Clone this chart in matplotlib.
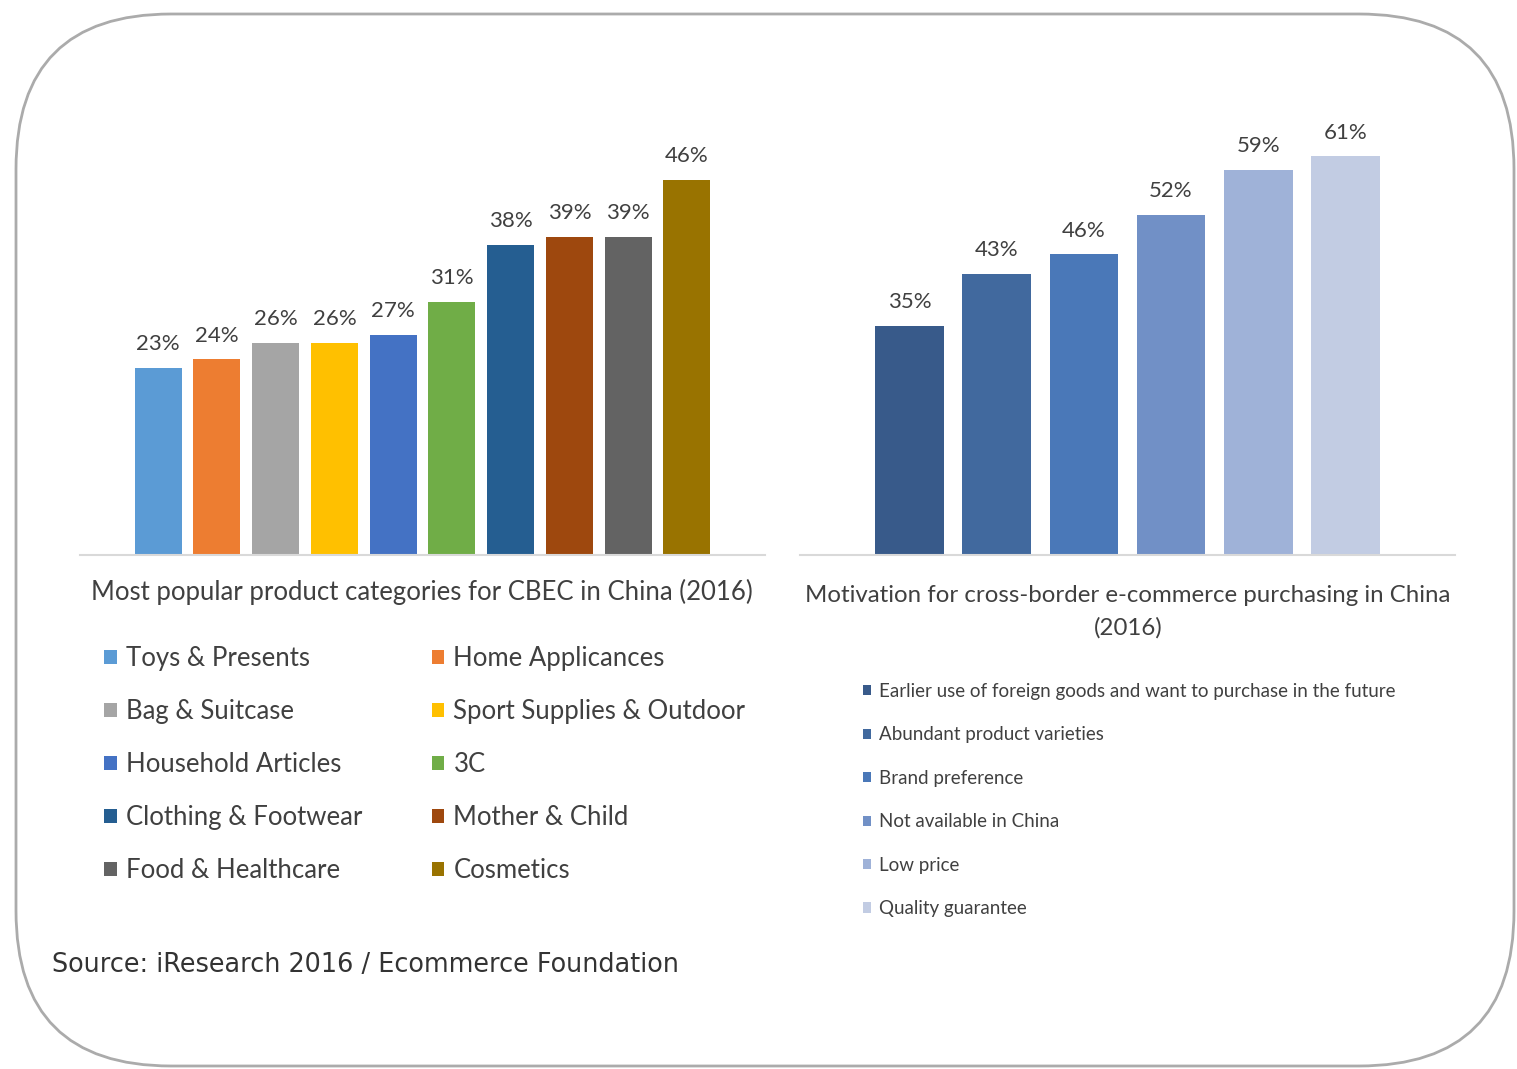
import matplotlib
matplotlib.use("Agg")
import matplotlib.pyplot as plt
from matplotlib.patches import FancyBboxPatch

# data
categories = [
    "Toys & Presents", "Home Applicances", "Bag & Suitcase", "Sport Supplies & Outdoor",
    "Household Articles", "3C", "Clothing & Footwear", "Mother & Child",
    "Food & Healthcare", "Cosmetics",
]
category_share = [23, 24, 26, 26, 27, 31, 38, 39, 39, 46]
category_colors = ["#5B9BD5", "#ED7D31", "#A5A5A5", "#FFC000", "#4472C4",
                   "#70AD47", "#255E91", "#9E480E", "#636363", "#997300"]

motivations = [
    "Earlier use of foreign goods and want to purchase in the future",
    "Abundant product varieties",
    "Brand preference",
    "Not available in China",
    "Low price",
    "Quality guarantee",
]
motivation_share = [35, 43, 46, 52, 59, 61]
motivation_colors = ["#385A8A", "#41699E", "#4A78B8", "#7190C6", "#9FB2D8", "#C2CCE3"]

W, H = 1517, 1069
TEXT = "#404040"
plt.rcParams["font.family"] = ["Lato", "DejaVu Sans"]

fig = plt.figure(figsize=(W / 100, H / 100), dpi=100)
fig.patch.set_facecolor("white")


def px_axes(x0, x1, y_top, y_base):
    return fig.add_axes([x0 / W, 1 - y_base / H, (x1 - x0) / W, (y_base - y_top) / H])


# rounded frame around everything
frame = fig.add_axes([0, 0, 1, 1], zorder=-1)
frame.set_xlim(0, W)
frame.set_ylim(H, 0)
frame.axis("off")
frame.add_patch(FancyBboxPatch((16, 14), 1498, 1052,
                               boxstyle="round,pad=0,rounding_size=155",
                               fill=False, edgecolor="#ABABAB", linewidth=2.0))


def style(ax):
    for side in ("top", "left", "right"):
        ax.spines[side].set_visible(False)
    ax.spines["bottom"].set_color("#D9D9D9")
    ax.spines["bottom"].set_linewidth(1.5)
    ax.set_xticks([])
    ax.set_yticks([])
    ax.patch.set_alpha(0)


# left chart
ax1 = px_axes(80, 765, 66, 555)
bars1 = ax1.bar(range(len(categories)), category_share, width=0.8, color=category_colors)
ax1.set_xlim(-1.33, len(categories) - 1 + 1.33)
ax1.set_ylim(0, 60)
style(ax1)
ax1.bar_label(bars1, labels=[f"{v}%" for v in category_share], padding=10,
              fontsize=16, color=TEXT)
fig.text(422 / W, 1 - 592 / H, "Most popular product categories for CBEC in China (2016)",
         ha="center", va="center", fontsize=18.5, color=TEXT)

order = [0, 2, 4, 6, 8, 1, 3, 5, 7, 9]
fig.legend([bars1.patches[i] for i in order], [categories[i] for i in order],
           loc="upper left", bbox_to_anchor=(104 / W, 1 - 646 / H), bbox_transform=fig.transFigure,
           ncol=2, frameon=False, fontsize=18.5, borderpad=0, borderaxespad=0,
           handlelength=0.5, handleheight=0.5, handletextpad=0.35,
           labelspacing=1.09, columnspacing=2.7, labelcolor=TEXT)

# right chart
ax2 = px_axes(800, 1455, 65, 555)
bars2 = ax2.bar(range(len(motivations)), motivation_share, width=0.79, color=motivation_colors)
ax2.set_xlim(-1.26, len(motivations) - 1 + 1.26)
ax2.set_ylim(0, 75)
style(ax2)
ax2.bar_label(bars2, labels=[f"{v}%" for v in motivation_share], padding=10,
              fontsize=16, color=TEXT)
fig.text(1128 / W, 1 - 612 / H, "Motivation for cross-border e-commerce purchasing in China\n(2016)",
         ha="center", va="center", fontsize=17.3, color=TEXT, linespacing=1.62)

fig.legend(bars2.patches, motivations,
           loc="upper left", bbox_to_anchor=(863 / W, 1 - 683 / H), bbox_transform=fig.transFigure,
           ncol=1, frameon=False, fontsize=13.5, borderpad=0, borderaxespad=0,
           handlelength=0.45, handleheight=0.45, handletextpad=0.4,
           labelspacing=1.41, labelcolor=TEXT)

fig.text(52 / W, 1 - 965 / H, "Source: iResearch 2016 / Ecommerce Foundation",
         ha="left", va="center", fontsize=18.4, color="#333333", family=["DejaVu Sans"])

fig.savefig("out.png", dpi=100, facecolor="white")
